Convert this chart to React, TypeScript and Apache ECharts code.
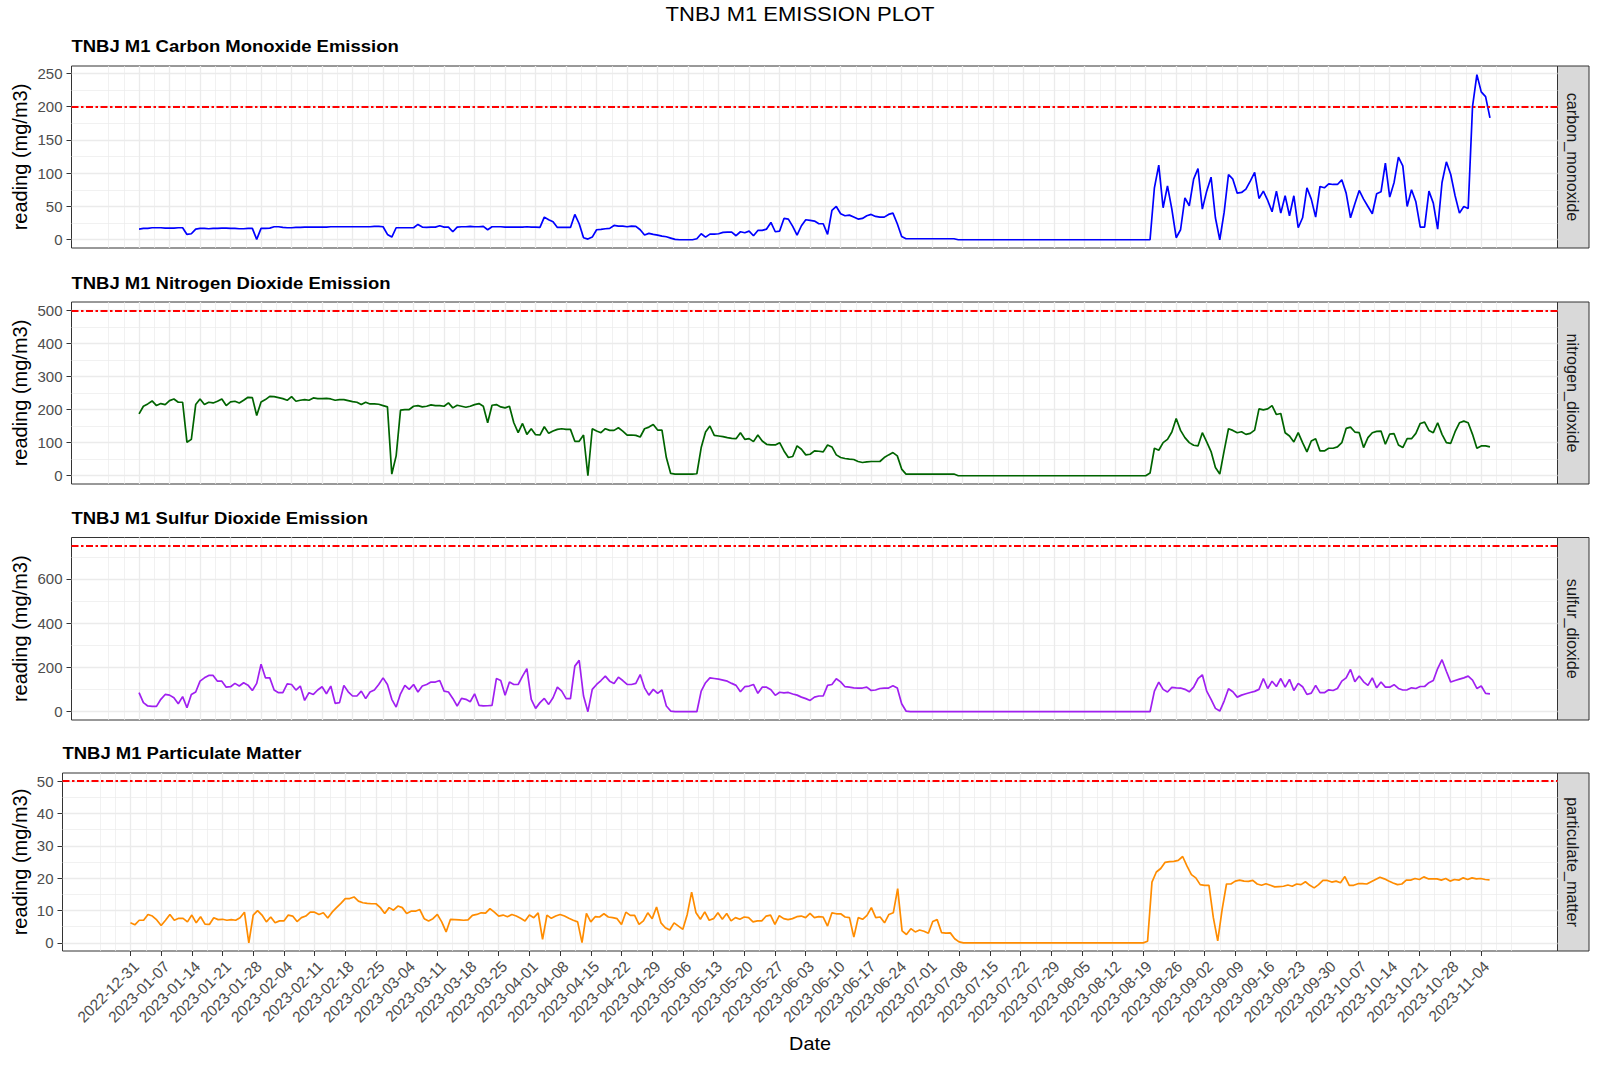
import React, { useEffect, useRef } from 'react';
import * as echarts from 'echarts';

// ---------- DATA ----------
// x ticks (every 7 days from the first reading, 2022-12-31 = day 0)
const TICK_LABELS = [
  '2022-12-31', '2023-01-07', '2023-01-14', '2023-01-21', '2023-01-28', '2023-02-04', '2023-02-11',
  '2023-02-18', '2023-02-25', '2023-03-04', '2023-03-11', '2023-03-18', '2023-03-25', '2023-04-01',
  '2023-04-08', '2023-04-15', '2023-04-22', '2023-04-29', '2023-05-06', '2023-05-13', '2023-05-20',
  '2023-05-27', '2023-06-03', '2023-06-10', '2023-06-17', '2023-06-24', '2023-07-01', '2023-07-08',
  '2023-07-15', '2023-07-22', '2023-07-29', '2023-08-05', '2023-08-12', '2023-08-19', '2023-08-26',
  '2023-09-02', '2023-09-09', '2023-09-16', '2023-09-23', '2023-09-30', '2023-10-07', '2023-10-14',
  '2023-10-21', '2023-10-28', '2023-11-04',
];

// daily readings, day 0 = 2022-12-31 ... day 310 = 2023-11-06
const CARBON_MONOXIDE = [
  16, 17, 17, 18, 18, 18, 17.5, 17.5, 17.5, 18,
  18, 8, 9, 16, 17, 17, 16.5, 17, 17, 17.5,
  17.5, 17, 17, 16.5, 16.5, 17, 17, 0.5, 17, 17,
  17.5, 19.5, 19.5, 18.5, 18, 18, 18.5, 18.5, 19, 19,
  19, 19, 19, 19, 19.5, 19.5, 19.5, 19.5, 19.5, 19.5,
  19.5, 19.5, 19.5, 19.5, 20, 20, 19.5, 8, 4, 18,
  18, 18, 18, 18, 23, 19, 18.5, 19, 19, 21,
  19, 19, 12, 19, 19.5, 19.5, 20, 19.5, 19.5, 20,
  15, 19.5, 19.5, 19.5, 19, 19, 19, 19, 19, 19.5,
  19, 19, 18.5, 34, 30, 27, 18.5, 18.5, 18.5, 18.5,
  38, 24, 3, 1, 4, 15, 15.5, 16.5, 17, 21.5,
  20.5, 20.5, 19.5, 20.5, 20, 15, 7, 9.5, 8, 7,
  5.5, 4.5, 2.5, 0.5, 0, 0, 0, 0, 1.5, 9,
  4, 8.5, 8.5, 9, 11, 11.5, 11.5, 6, 12, 10.5,
  13, 6, 14, 14, 16, 26, 12, 13, 32, 31,
  20, 7, 21, 30, 29, 28, 24, 24, 8, 44,
  50, 39, 36, 37, 34, 31, 32, 36, 38, 35,
  34, 34, 38, 40, 24, 5, 1.5, 1.5, 1.5, 1.5,
  1.5, 1.5, 1.5, 1.5, 1.5, 1.5, 1.5, 1.5, 0, 0,
  0, 0, 0, 0, 0, 0, 0, 0, 0, 0,
  0, 0, 0, 0, 0, 0, 0, 0, 0, 0,
  0, 0, 0, 0, 0, 0, 0, 0, 0, 0,
  0, 0, 0, 0, 0, 0, 0, 0, 0, 0,
  0, 0, 0, 78, 112, 48, 81, 46, 3, 15,
  63, 51, 91, 107, 46, 73, 94, 33, 0, 41,
  98, 91, 70, 71, 76, 88, 101, 62, 73, 59,
  42, 73, 40, 66, 36, 66, 18, 33, 78, 61,
  34, 80, 78, 84, 83, 83, 90, 70, 33, 54,
  74, 61, 50, 39, 69, 72, 115, 64, 86, 124,
  111, 50, 75, 57, 19, 19, 73, 55, 16, 86,
  117, 98, 66, 40, 50, 47, 200, 248, 222, 215, 183,
];

const NITROGEN_DIOXIDE = [
  187, 210, 217, 226, 212, 218, 215, 227, 232, 222,
  222, 101, 110, 215, 232, 215, 222, 220, 225, 232,
  212, 223, 225, 220, 228, 237, 236, 182, 223, 230,
  240, 239, 236, 233, 228, 239, 225, 228, 230, 228,
  235, 233, 233, 234, 232, 228, 230, 230, 227, 224,
  222, 215, 222, 217, 217, 216, 212, 208, 5, 60,
  198, 200, 200, 210, 212, 208, 210, 214, 212, 212,
  210, 220, 205, 213, 210, 207, 210, 215, 218, 210,
  160, 213, 215, 208, 205, 210, 160, 130, 158, 125,
  142, 124, 123, 148, 128, 135, 140, 142, 140, 140,
  104, 104, 123, 0, 142, 135, 130, 142, 137, 137,
  145, 135, 123, 123, 122, 117, 142, 147, 155, 138,
  138, 55, 7, 5, 5, 5, 5, 5, 6, 85,
  132, 150, 122, 120, 118, 115, 113, 112, 130, 110,
  112, 103, 123, 105, 95, 93, 93, 100, 75, 55,
  58, 90, 80, 63, 65, 75, 74, 72, 93, 87,
  63, 55, 52, 50, 49, 43, 40, 42, 43, 43,
  43, 55, 63, 70, 60, 20, 5, 5, 5, 5,
  5, 5, 5, 5, 5, 5, 5, 5, 0, 0,
  0, 0, 0, 0, 0, 0, 0, 0, 0, 0,
  0, 0, 0, 0, 0, 0, 0, 0, 0, 0,
  0, 0, 0, 0, 0, 0, 0, 0, 0, 0,
  0, 0, 0, 0, 0, 0, 0, 0, 0, 0,
  0, 0, 8, 83, 77, 100, 110, 132, 173, 137,
  115, 100, 92, 90, 130, 102, 73, 25, 5, 75,
  142, 137, 130, 133, 125, 128, 138, 202, 199, 202,
  212, 185, 188, 130, 120, 102, 130, 100, 72, 105,
  112, 75, 75, 83, 83, 87, 100, 143, 147, 132,
  130, 85, 115, 130, 134, 135, 95, 126, 127, 93,
  85, 112, 112, 128, 158, 162, 137, 130, 160, 125,
  100, 98, 133, 160, 165, 160, 125, 83, 90, 90, 87,
];

const SULFUR_DIOXIDE = [
  86, 41, 26, 24, 24, 56, 78, 75, 63, 36,
  68, 18, 78, 89, 138, 153, 164, 164, 138, 138,
  111, 113, 128, 116, 131, 120, 96, 128, 215, 153,
  153, 98, 86, 86, 126, 123, 98, 116, 51, 86,
  78, 98, 113, 81, 116, 38, 41, 119, 90, 71,
  71, 93, 59, 89, 98, 123, 153, 123, 56, 21,
  81, 119, 101, 123, 89, 116, 123, 134, 134, 141,
  93, 89, 60, 26, 60, 56, 45, 81, 29, 26,
  27, 29, 150, 141, 74, 134, 123, 123, 161, 195,
  56, 15, 41, 60, 33, 63, 111, 93, 59, 59,
  206, 232, 71, 0, 101, 123, 141, 161, 138, 128,
  156, 141, 123, 123, 128, 168, 108, 75, 101, 83,
  98, 26, 3, 0, 0, 0, 0, 0, 0, 93,
  131, 153, 150, 147, 143, 138, 128, 119, 90, 113,
  116, 123, 83, 111, 111, 99, 74, 88, 85, 87,
  80, 75, 66, 59, 51, 66, 71, 71, 119, 123,
  149, 135, 113, 111, 108, 107, 107, 111, 96, 98,
  105, 107, 107, 117, 107, 36, 3, 0, 0, 0,
  0, 0, 0, 0, 0, 0, 0, 0, 0, 0,
  0, 0, 0, 0, 0, 0, 0, 0, 0, 0,
  0, 0, 0, 0, 0, 0, 0, 0, 0, 0,
  0, 0, 0, 0, 0, 0, 0, 0, 0, 0,
  0, 0, 0, 0, 0, 0, 0, 0, 0, 0,
  0, 0, 0, 93, 134, 101, 89, 110, 108, 107,
  101, 90, 111, 149, 167, 93, 56, 15, 3, 48,
  104, 90, 66, 75, 81, 87, 92, 101, 150, 105,
  138, 114, 150, 111, 146, 96, 128, 113, 78, 84,
  119, 86, 86, 99, 96, 105, 138, 153, 191, 135,
  161, 135, 119, 153, 108, 134, 111, 111, 122, 105,
  98, 99, 108, 105, 114, 114, 131, 141, 195, 235,
  183, 134, 141, 147, 153, 161, 143, 105, 116, 83, 81,
];

const PARTICULATE_MATTER = [
  6.2, 5.6, 7, 7, 8.8, 8.3, 7.1, 5.4, 7, 8.8,
  7, 7.6, 7.6, 6.5, 8.6, 6.2, 8.1, 5.8, 5.7, 7.8,
  7.2, 7.3, 7, 7.2, 7, 7.8, 9.5, 0, 8.6, 10,
  8.6, 6.5, 8, 6.2, 6.8, 6.8, 8.6, 8.3, 6.6, 7.8,
  8.3, 9.5, 9.5, 8.8, 9.3, 7.7, 9.5, 10.9, 12.2, 13.7,
  13.7, 14.2, 12.9, 12.4, 12.2, 12.1, 12.1, 10.9, 9.1, 10.9,
  10.1, 11.4, 10.9, 9.1, 9.8, 9.8, 10.3, 7.5, 6.8, 7.5,
  8.8, 6.5, 3.4, 7.3, 7.2, 7.1, 7, 7.1, 8.5, 8.8,
  9.3, 9.2, 10.6, 9.5, 8.3, 8.6, 8.1, 8.8, 8.3, 7.6,
  6.8, 8.6, 7.8, 9.3, 1.1, 8.6, 7.6, 8.3, 8.8, 8.3,
  7.6, 7, 6.5, 0.1, 9.1, 6.5, 8.1, 8, 9, 8,
  7.8, 7.5, 5.7, 9.5, 8.5, 8.5, 5.7, 6.8, 9.3, 7.5,
  11.1, 6.2, 4.7, 4, 6.2, 5.2, 4.2, 8.8, 15.7, 9.3,
  7.3, 9.6, 7, 7.5, 9.3, 7.3, 9.1, 6.8, 7.8, 7.3,
  8, 7.8, 6.5, 6.8, 6.8, 8.3, 8.6, 5.7, 8.4, 7.5,
  7.2, 7.5, 8.1, 8.3, 7.8, 9.1, 7.8, 8.1, 8, 5.2,
  9.3, 9, 9, 8, 7.8, 1.8, 7.8, 7.3, 8.5, 10.9,
  7.8, 8, 6.2, 8.8, 9.3, 16.8, 3.7, 2.6, 4.4, 3.4,
  4, 3.6, 3, 6.6, 7.2, 3.2, 3, 3.1, 1.3, 0.3,
  0, 0, 0, 0, 0, 0, 0, 0, 0, 0,
  0, 0, 0, 0, 0, 0, 0, 0, 0, 0,
  0, 0, 0, 0, 0, 0, 0, 0, 0, 0,
  0, 0, 0, 0, 0, 0, 0, 0, 0, 0,
  0, 0, 0.5, 18.8, 21.9, 23, 24.9, 25.1, 25.2, 25.5,
  26.7, 23.7, 21.1, 20.1, 18, 17.8, 17.8, 7.8, 0.6, 10.3,
  18.2, 18.2, 19.1, 19.4, 19.1, 19, 19.3, 18.2, 17.8, 18.3,
  17.8, 17.3, 17.4, 17.5, 17.9, 17.5, 18.2, 18, 18.9, 17.8,
  17, 18, 19.3, 19.3, 18.8, 19.1, 18.6, 20.5, 17.8, 17.8,
  18.3, 18.3, 18.2, 18.9, 19.6, 20.3, 19.8, 19.1, 18.5, 18,
  18.2, 19.4, 19.4, 19.9, 19.6, 20.4, 19.8, 19.8, 19.8, 19.4,
  19.9, 19.1, 19.6, 19.4, 20.1, 19.6, 20.1, 19.8, 19.9, 19.6, 19.5,
];

const PANEL_TITLES = [
  'TNBJ M1 Carbon Monoxide Emission',
  'TNBJ M1 Nitrogen Dioxide Emission',
  'TNBJ M1 Sulfur Dioxide Emission',
  'TNBJ M1 Particulate Matter',
];
const STRIP_LABELS = ['carbon_monoxide', 'nitrogen_dioxide', 'sulfur_dioxide', 'particulate_matter'];
const SERIES_VALUES = [CARBON_MONOXIDE, NITROGEN_DIOXIDE, SULFUR_DIOXIDE, PARTICULATE_MATTER];
const LIMIT_VALUES = [200, 500, 750, 50];
const Y_MAJOR = [
  [0, 50, 100, 150, 200, 250],
  [0, 100, 200, 300, 400, 500],
  [0, 200, 400, 600],
  [0, 10, 20, 30, 40, 50],
];
const Y_MINOR = [
  [25, 75, 125, 175, 225],
  [50, 150, 250, 350, 450],
  [100, 300, 500, 700],
  [5, 15, 25, 35, 45],
];
const Y_RANGE = [
  [-12.4, 260.9],
  [-25, 525],
  [-37.5, 787.5],
  [-2.5, 52.5],
];
const X_RANGE = [-15.5, 325.5];

// ---------- STYLE / LAYOUT ----------
const LINE_COLORS = ['#0000FF', '#006400', '#A020F0', '#FF8C00'];
const FONT = '"Liberation Sans", Arial, Helvetica, sans-serif';
const PANEL_RIGHT = 1557.5;
const STRIP_W = 31.5;
const LAYOUT = [
  { left: 71.5, top: 66, height: 182, titleY: 46 },
  { left: 71.5, top: 302, height: 182, titleY: 283 },
  { left: 71.5, top: 537.5, height: 182.5, titleY: 518.5 },
  { left: 62.5, top: 773, height: 178, titleY: 753.5 },
];

const MAJOR_X = TICK_LABELS.map((_, k) => k * 7);
const MINOR_X: number[] = [];
for (let k = -2; k <= 90; k++) MINOR_X.push(k * 3.5);

function buildOption() {
  const grids: any[] = [];
  const xAxes: any[] = [];
  const yAxes: any[] = [];
  const series: any[] = [];
  const graphics: any[] = [];
  const n = LAYOUT.length;

  LAYOUT.forEach((L) => {
    grids.push({
      left: L.left,
      top: L.top,
      width: PANEL_RIGHT - L.left,
      height: L.height,
      show: true,
      borderColor: '#333333',
      borderWidth: 1,
      backgroundColor: 'transparent',
      containLabel: false,
      outerBoundsMode: 'none',
    });
  });

  // major x axes
  LAYOUT.forEach((_, i) => {
    const bottom = i === n - 1;
    xAxes.push({
      type: 'value',
      gridIndex: i,
      min: X_RANGE[0],
      max: X_RANGE[1],
      position: 'bottom',
      axisLine: { show: false, onZero: false },
      axisTick: {
        show: bottom,
        customValues: MAJOR_X,
        length: 5,
        lineStyle: { color: '#333333', width: 1 },
      },
      axisLabel: {
        show: bottom,
        customValues: MAJOR_X,
        formatter: (v: number) => TICK_LABELS[Math.round(v / 7)] ?? '',
        rotate: 45,
        align: 'right',
        verticalAlign: 'top',
        margin: 7,
        fontSize: 15.5,
        color: '#4D4D4D',
        fontFamily: FONT,
      },
      splitLine: { show: true, lineStyle: { color: '#EBEBEB', width: 1.3 } },
    });
  });
  // minor x axes
  LAYOUT.forEach((_, i) => {
    xAxes.push({
      type: 'value',
      gridIndex: i,
      min: X_RANGE[0],
      max: X_RANGE[1],
      position: 'top',
      axisLine: { show: false, onZero: false },
      axisTick: { show: false, customValues: MINOR_X },
      axisLabel: { show: false, customValues: MINOR_X },
      splitLine: { show: true, lineStyle: { color: '#EBEBEB', width: 0.7 } },
    });
  });
  // major y axes
  LAYOUT.forEach((_, i) => {
    yAxes.push({
      type: 'value',
      gridIndex: i,
      min: Y_RANGE[i][0],
      max: Y_RANGE[i][1],
      position: 'left',
      axisLine: { show: false, onZero: false },
      axisTick: {
        show: true,
        customValues: Y_MAJOR[i],
        length: 5,
        lineStyle: { color: '#333333', width: 1 },
      },
      axisLabel: {
        show: true,
        customValues: Y_MAJOR[i],
        margin: 9,
        fontSize: 15,
        color: '#4D4D4D',
        fontFamily: FONT,
      },
      splitLine: { show: true, lineStyle: { color: '#EBEBEB', width: 1.3 } },
    });
  });
  // minor y axes
  LAYOUT.forEach((_, i) => {
    yAxes.push({
      type: 'value',
      gridIndex: i,
      min: Y_RANGE[i][0],
      max: Y_RANGE[i][1],
      position: 'right',
      axisLine: { show: false, onZero: false },
      axisTick: { show: false, customValues: Y_MINOR[i] },
      axisLabel: { show: false, customValues: Y_MINOR[i] },
      splitLine: { show: true, lineStyle: { color: '#EBEBEB', width: 0.7 } },
    });
  });

  SERIES_VALUES.forEach((vals, i) => {
    series.push({
      type: 'line',
      name: STRIP_LABELS[i],
      xAxisIndex: i,
      yAxisIndex: i,
      data: vals.map((v, d) => [d, v]),
      showSymbol: false,
      symbol: 'none',
      lineStyle: { color: LINE_COLORS[i], width: 1.7 },
      itemStyle: { color: LINE_COLORS[i] },
      z: 3,
      markLine: {
        silent: true,
        symbol: ['none', 'none'],
        label: { show: false },
        lineStyle: { color: '#FF0000', width: 2, type: [7, 2.5, 2.5, 2.5] },
        data: [{ yAxis: LIMIT_VALUES[i] }],
        z: 4,
      },
    });
  });

  // main title
  graphics.push({
    type: 'text',
    x: 800,
    y: 14,
    scaleX: 1.1,
    style: {
      text: 'TNBJ M1 EMISSION PLOT',
      fill: '#000000',
      fontSize: 20,
      fontFamily: FONT,
      align: 'center',
      verticalAlign: 'middle',
      textAlign: 'center',
      textVerticalAlign: 'middle',
    },
  });

  LAYOUT.forEach((L, i) => {
    // panel title
    graphics.push({
      type: 'text',
      x: L.left,
      y: L.titleY,
      scaleX: 1.1,
      style: {
        text: PANEL_TITLES[i],
        fill: '#000000',
        fontSize: 16.8,
        fontWeight: 'bold',
        fontFamily: FONT,
        align: 'left',
        verticalAlign: 'middle',
        textAlign: 'left',
        textVerticalAlign: 'middle',
      },
    });
    // y axis title
    graphics.push({
      type: 'text',
      x: 19.5,
      y: L.top + L.height / 2,
      rotation: Math.PI / 2,
      style: {
        text: 'reading (mg/m3)',
        fill: '#000000',
        fontSize: 20,
        fontFamily: FONT,
        align: 'center',
        verticalAlign: 'middle',
        textAlign: 'center',
        textVerticalAlign: 'middle',
      },
    });
    // strip
    graphics.push({
      type: 'rect',
      shape: { x: PANEL_RIGHT, y: L.top, width: STRIP_W, height: L.height },
      style: { fill: '#D9D9D9', stroke: '#333333', lineWidth: 1 },
    });
    graphics.push({
      type: 'text',
      x: PANEL_RIGHT + STRIP_W / 2,
      y: L.top + L.height / 2,
      rotation: -Math.PI / 2,
      style: {
        text: STRIP_LABELS[i],
        fill: '#1A1A1A',
        fontSize: 16.2,
        fontFamily: FONT,
        align: 'center',
        verticalAlign: 'middle',
        textAlign: 'center',
        textVerticalAlign: 'middle',
      },
    });
  });

  // x axis title
  graphics.push({
    type: 'text',
    x: (LAYOUT[3].left + PANEL_RIGHT) / 2,
    y: 1044,
    scaleX: 1.1,
    style: {
      text: 'Date',
      fill: '#000000',
      fontSize: 18,
      fontFamily: FONT,
      align: 'center',
      verticalAlign: 'middle',
      textAlign: 'center',
      textVerticalAlign: 'middle',
    },
  });

  return {
    animation: false,
    backgroundColor: '#FFFFFF',
    textStyle: { fontFamily: FONT },
    grid: grids,
    xAxis: xAxes,
    yAxis: yAxes,
    series,
    graphic: { elements: graphics },
  };
}

export default function App() {
  const ref = useRef<HTMLDivElement>(null);
  useEffect(() => {
    if (!ref.current) return;
    const chart = echarts.init(ref.current, undefined, { renderer: 'svg' });
    chart.setOption(buildOption() as any);
    return () => chart.dispose();
  }, []);
  return (
    <div
      ref={ref}
      style={{ position: 'fixed', left: 0, top: 0, width: 1600, height: 1066, background: '#FFFFFF' }}
    />
  );
}
